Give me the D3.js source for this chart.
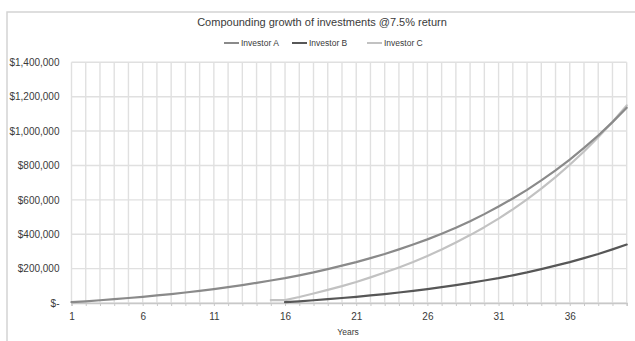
<!DOCTYPE html>
<html>
<head>
<meta charset="utf-8">
<script src="https://cdn.jsdelivr.net/npm/d3@7"></script>
<style>
  html, body { margin: 0; padding: 0; background: #fff; }
  svg { display: block; }
  text { font-family: "Liberation Sans", Arial, sans-serif; }
</style>
</head>
<body>
<svg id="chart" width="635" height="341"></svg>
<script>
// ---- Data ----
const years = d3.range(1, 41);
const xTickLabels = [1, 6, 11, 16, 21, 26, 31, 36];
const yTickValues = [0, 200000, 400000, 600000, 800000, 1000000, 1200000, 1400000];
const seriesNames = ["Investor A", "Investor B", "Investor C"];

const investorA = [5000, 10000, 16000, 22000, 29000, 36000, 44000, 52000, 61000, 71000,
  81000, 92000, 104000, 117000, 131000, 145000, 161000, 178000, 197000, 217000,
  238000, 261000, 285000, 312000, 340000, 370000, 403000, 438000, 476000, 517000,
  561000, 608000, 658000, 713000, 771000, 834000, 902000, 974000, 1052000, 1136000];
const investorBYears = d3.range(16, 41);
const investorB = [5000, 10000, 16000, 22000, 29000, 36000, 44000, 52000, 61000, 71000,
  81000, 92000, 104000, 117000, 131000, 145000, 161000, 178000, 197000, 217000,
  238000, 261000, 285000, 312000, 340000];
const investorCYears = d3.range(15, 41);
const investorC = [17000, 17000, 35000, 55000, 76000, 98000, 122000, 149000, 177000, 207000,
  239000, 274000, 311000, 352000, 395000, 441000, 491000, 545000, 603000, 665000,
  732000, 804000, 881000, 964000, 1053000, 1149000];

// ---- Layout ----
const svg = d3.select("#chart");
const L = 71.5, R = 626.7, T = 62.3, B = 303;

const x = d3.scaleLinear().domain([1, 40]).range([L, R]);
const y = d3.scaleLinear().domain([0, 1400000]).range([B, T]);

// outer frame
svg.append("rect").attr("x", 7).attr("y", 12).attr("width", 640).attr("height", 340)
  .attr("fill", "#fff").attr("stroke", "#d4d4d4").attr("stroke-width", 1.5);

// gridlines
const grid = svg.append("g");
grid.selectAll("line.v").data(years).join("line")
  .attr("x1", d => x(d)).attr("x2", d => x(d)).attr("y1", T).attr("y2", B)
  .attr("stroke", "#e0e0e0").attr("stroke-width", 1.4);
grid.selectAll("line.h").data(yTickValues).join("line")
  .attr("x1", L).attr("x2", R).attr("y1", d => y(d)).attr("y2", d => y(d))
  .attr("stroke", "#e0e0e0").attr("stroke-width", 1.4);

// y axis labels
const yAxis = d3.axisLeft(y).tickValues(yTickValues).tickSize(0).tickPadding(12)
  .tickFormat(d => d === 0 ? "$-" : "$" + d3.format(",")(d));
const gy = svg.append("g").attr("transform", `translate(${L},0)`).call(yAxis);
gy.select(".domain").remove();
gy.selectAll("text").attr("fill", "#3a3a3a").attr("font-size", "10px");

// x axis
const xAxis = d3.axisBottom(x).tickValues(years).tickSize(3).tickPadding(7)
  .tickFormat(d => xTickLabels.includes(d) ? d : "");
const gx = svg.append("g").attr("transform", `translate(0,${B})`).call(xAxis);
gx.select(".domain").attr("stroke", "#c8c8c8").attr("stroke-width", 1.3);
gx.selectAll(".tick line").attr("stroke", "#c8c8c8");
gx.selectAll("text").attr("fill", "#3a3a3a").attr("font-size", "10px");

svg.append("text").attr("x", 348).attr("y", 335).attr("text-anchor", "middle")
  .attr("font-size", "8.5px").attr("fill", "#3a3a3a").text("Years");

// lines
const colors = ["#8a8a8a", "#575757", "#c2c2c2"];
const line = d3.line().x(d => x(d[0])).y(d => y(d[1]));
const dataSets = [
  d3.zip(years, investorA),
  d3.zip(investorBYears, investorB),
  d3.zip(investorCYears, investorC)
];
[2, 1, 0].forEach(i => {
  svg.append("path").datum(dataSets[i]).attr("d", line)
    .attr("fill", "none").attr("stroke", colors[i]).attr("stroke-width", 2.2)
    .attr("stroke-linejoin", "round").attr("stroke-linecap", "round");
});

// title
svg.append("text").attr("x", 322).attr("y", 26).attr("text-anchor", "middle")
  .attr("font-size", "11px").attr("fill", "#3a3a3a")
  .text("Compounding growth of investments @7.5% return");

// legend
const legendX = [224, 292, 367];
const lg = svg.append("g");
seriesNames.forEach((n, i) => {
  lg.append("line").attr("x1", legendX[i]).attr("x2", legendX[i] + 15)
    .attr("y1", 43).attr("y2", 43).attr("stroke", colors[i]).attr("stroke-width", 2);
  lg.append("text").attr("x", legendX[i] + 17).attr("y", 46)
    .attr("font-size", "8.5px").attr("fill", "#3a3a3a").text(n);
});
</script>
</body>
</html>
